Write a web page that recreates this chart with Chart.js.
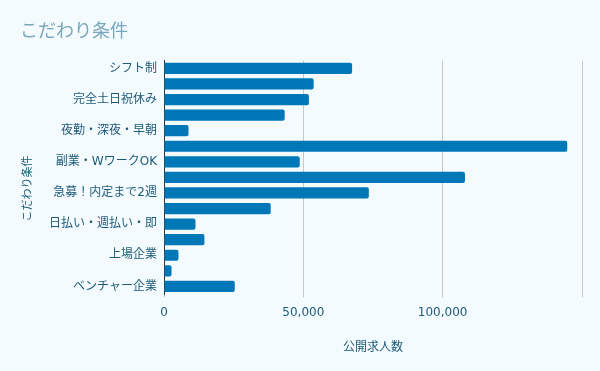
<!DOCTYPE html>
<html>
<head>
<meta charset="utf-8">
<script src="https://cdn.jsdelivr.net/npm/chart.js@4/dist/chart.umd.min.js"></script>
<style>
  html, body { margin: 0; padding: 0; background: #f4fbff; }
  #wrap { width: 600px; height: 371px; }
</style>
</head>
<body>
<div id="wrap"><canvas id="c" width="600" height="371"></canvas></div>
<script>
const chartTitle = 'こだわり条件';
const yAxisTitle = 'こだわり条件\u3000\u3000';
const xAxisTitle = '公開求人数';
const categories = [
  'シフト制',
  '交通費支給',
  '完全土日祝休み',
  '週休2日',
  '夜勤・深夜・早朝',
  '未経験OK',
  '副業・WワークOK',
  '学歴不問',
  '急募！内定まで2週間以内',
  '服装自由',
  '日払い・週払い・即日払い',
  '寮・社宅あり',
  '上場企業',
  '外資系企業',
  'ベンチャー企業'
];
const openings = [67500, 53700, 52000, 43300, 8800, 144700, 48700, 108000, 73500, 38300, 11300, 14500, 5200, 2700, 25400];
const xTickValues = [0, 50000, 100000, 150000];
const xLabelledMax = 100000;

const FONT = "'DejaVu Sans', 'Noto Sans CJK JP', sans-serif";
const TEXT = '#1d5b79';

new Chart(document.getElementById('c'), {
  type: 'bar',
  data: {
    labels: categories,
    datasets: [{
      label: xAxisTitle,
      data: openings,
      backgroundColor: '#0077b6',
      borderRadius: 2,
      borderSkipped: 'start'
    }]
  },
  options: {
    indexAxis: 'y',
    responsive: false,
    animation: false,
    layout: { padding: { left: 20, right: 18, top: 10, bottom: 12 } },
    plugins: {
      legend: { display: false },
      tooltip: { enabled: false },
      title: {
        display: true,
        text: chartTitle,
        align: 'start',
        color: '#78a6bb',
        font: { family: FONT, size: 18, weight: 'normal' },
        padding: { top: 12, bottom: 17 }
      }
    },
    scales: {
      x: {
        min: xTickValues[0],
        max: xTickValues[xTickValues.length - 1],
        afterBuildTicks: (axis) => { axis.ticks = xTickValues.map(v => ({ value: v })); },
        grid: { color: '#c8c8c8', drawTicks: true, tickLength: 3 },
        border: { display: false },
        ticks: {
          color: TEXT,
          font: { family: FONT, size: 12 },
          padding: 8,
          maxRotation: 0,
          callback: (v) => v > xLabelledMax ? '' : v.toLocaleString('en-US')
        },
        title: {
          display: true,
          text: xAxisTitle,
          color: TEXT,
          font: { family: FONT, size: 12 },
          padding: { top: 13, bottom: 4 }
        }
      },
      y: {
        afterFit: (axis) => { axis.width = 144; },
        grid: { display: false, drawTicks: false },
        border: { display: true, color: '#333333', width: 1 },
        ticks: {
          color: TEXT,
          font: { family: FONT, size: 12 },
          padding: 7,
          autoSkip: false,
          callback: function (v, i) {
            if (i % 2 === 1) return '';
            const s = this.getLabelForValue(v);
            return s.length > 9 ? s.slice(0, 9) : s;
          }
        },
        title: {
          display: true,
          text: yAxisTitle,
          color: TEXT,
          font: { family: FONT, size: 11 },
          padding: { top: 2, bottom: 8 }
        }
      }
    }
  }
});
</script>
</body>
</html>
